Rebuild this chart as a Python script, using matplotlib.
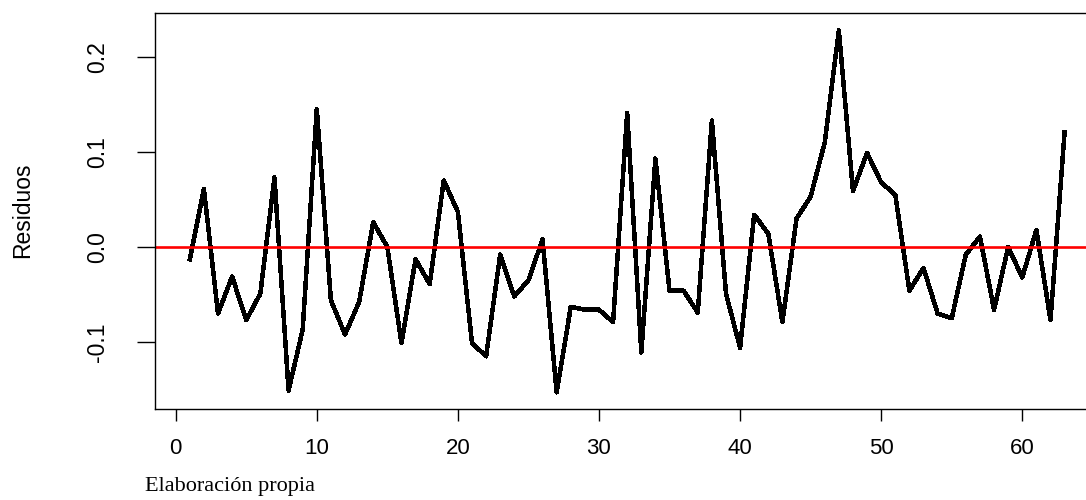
import numpy as np
import matplotlib

matplotlib.use("Agg")
from matplotlib import pyplot as plt

# residuos (observaciones 1..63)
obs = np.arange(1, 64)
residuos = [
    -0.013, 0.061, -0.070, -0.031, -0.077, -0.049, 0.073, -0.151, -0.087, 0.145,
    -0.056, -0.092, -0.058, 0.026, 0.000, -0.101, -0.013, -0.039, 0.070, 0.037,
    -0.101, -0.115, -0.008, -0.052, -0.035, 0.008, -0.153, -0.063, -0.066, -0.066,
    -0.079, 0.141, -0.111, 0.093, -0.046, -0.046, -0.069, 0.133, -0.049, -0.106,
    0.034, 0.014, -0.079, 0.030, 0.053, 0.110, 0.228, 0.059, 0.099, 0.068,
    0.055, -0.046, -0.022, -0.070, -0.075, -0.008, 0.011, -0.066, 0.000, -0.032,
    0.018, -0.077, 0.121,
]
xticks = [0, 10, 20, 30, 40, 50, 60]
yticks = [-0.1, 0.0, 0.1, 0.2]
ytick_labels = ["-0.1", "0.0", "0.1", "0.2"]

plt.rcParams['font.family'] = ['Liberation Sans', 'DejaVu Sans']

fig = plt.figure(figsize=(10.86, 5.0), dpi=100)
ax = fig.add_axes([0.14254, 0.182, 0.86998, 0.7926])

# linea de residuos y referencia en cero (sin suavizado, como en R)
ax.plot(obs, residuos, color="black", lw=2.5, antialiased=False)
ax.axhline(0, color="red", lw=1.9, antialiased=True)

ax.set_xlim(-1.48, 65.48)
ax.set_ylim(-0.1705, 0.2466)
ax.set_xticks(xticks)
ax.set_yticks(yticks)
ax.set_yticklabels(ytick_labels, rotation=90, va="center")

for s in ax.spines.values():
    s.set_linewidth(1.0)
ax.tick_params(axis="x", direction="out", length=8.6, width=1.0, pad=12, labelsize=16)
ax.tick_params(axis="y", direction="out", length=13, width=1.0, pad=20, labelsize=16.5)

fig.text(23 / 1086, 1 - 210 / 500, "Residuos", rotation=90, ha="center", va="center",
         fontsize=16.5)
fig.text(145 / 1086, 1 - 486 / 500, "Elaboración propia", ha="left", va="center",
         fontsize=16, family=["Liberation Serif", "DejaVu Serif"])

fig.savefig("out.png", dpi=100)
